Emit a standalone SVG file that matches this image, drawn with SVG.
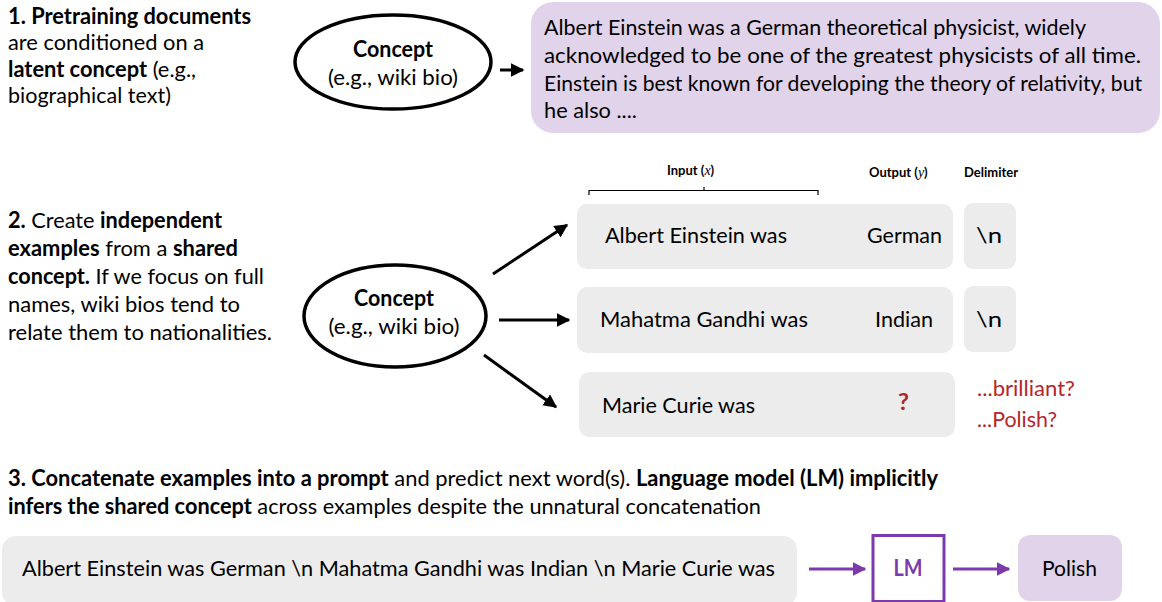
<svg xmlns="http://www.w3.org/2000/svg" width="1162" height="602" viewBox="0 0 1162 602">
<style>
text{font-family:Lato,"Liberation Sans",sans-serif;fill:#000}
.t{font-size:22px}
.b{font-weight:bold}
.hd{font-size:13px;font-weight:bold}
.m{font-family:"Liberation Serif",serif;font-style:italic;font-weight:normal;font-size:14px}
.gray{fill:#ececec}
.lav{fill:#e0d3ea}
.red{fill:#b3262b}
.ell{fill:#fff;stroke:#000;stroke-width:3.5}
.ar{stroke:#000;stroke-width:3;fill:none}
.pa{stroke:#7b3aae;stroke-width:3;fill:none}
</style>
<defs>
<marker id="ah" viewBox="0 0 10 10" refX="9" refY="5" markerWidth="4.5" markerHeight="4.5" orient="auto" markerUnits="strokeWidth"><path d="M0,0 L10,5 L0,10 z" fill="#000"/></marker>
<marker id="ahp" viewBox="0 0 10 10" refX="9" refY="5" markerWidth="4.5" markerHeight="4.5" orient="auto" markerUnits="strokeWidth"><path d="M0,0 L10,5 L0,10 z" fill="#7b3aae"/></marker>
</defs>
<rect width="1162" height="602" fill="#fff"/>

<g id="desc1">
<text class="t b" x="8" y="24" textLength="243" lengthAdjust="spacingAndGlyphs">1. Pretraining documents</text>
<text class="t" x="8" y="50" textLength="196" lengthAdjust="spacingAndGlyphs">are conditioned on a</text>
<text class="t" x="8" y="77" textLength="188" lengthAdjust="spacingAndGlyphs"><tspan class="b">latent concept</tspan> (e.g.,</text>
<text class="t" x="8" y="103" textLength="163" lengthAdjust="spacingAndGlyphs">biographical text)</text>
</g>

<g id="concept1">
<ellipse class="ell" cx="393" cy="62" rx="98" ry="47"/>
<text class="t b" x="393" y="57" text-anchor="middle" textLength="80" lengthAdjust="spacingAndGlyphs">Concept</text>
<text class="t" x="393" y="85" text-anchor="middle" textLength="130" lengthAdjust="spacingAndGlyphs">(e.g., wiki bio)</text>
</g>

<g id="document">
<rect class="lav" x="531" y="2" width="629" height="131" rx="22"/>
<text class="t" x="544" y="35" textLength="542" lengthAdjust="spacingAndGlyphs">Albert Einstein was a German theoretical physicist, widely</text>
<text class="t" x="544" y="63" textLength="597" lengthAdjust="spacingAndGlyphs">acknowledged to be one of the greatest physicists of all time.</text>
<text class="t" x="544" y="91" textLength="598" lengthAdjust="spacingAndGlyphs">Einstein is best known for developing the theory of relativity, but</text>
<text class="t" x="544" y="118" textLength="93" lengthAdjust="spacingAndGlyphs">he also ....</text>
</g>

<g id="desc2">
<text class="t" x="8" y="228" textLength="214" lengthAdjust="spacingAndGlyphs"><tspan class="b">2.</tspan> Create <tspan class="b">independent</tspan></text>
<text class="t" x="8" y="256" textLength="230" lengthAdjust="spacingAndGlyphs"><tspan class="b">examples</tspan> from a <tspan class="b">shared</tspan></text>
<text class="t" x="8" y="284" textLength="256" lengthAdjust="spacingAndGlyphs"><tspan class="b">concept.</tspan> If we focus on full</text>
<text class="t" x="8" y="312" textLength="232" lengthAdjust="spacingAndGlyphs">names, wiki bios tend to</text>
<text class="t" x="8" y="340" textLength="264" lengthAdjust="spacingAndGlyphs">relate them to nationalities.</text>
</g>

<g id="concept2">
<ellipse class="ell" cx="395" cy="316" rx="91" ry="51"/>
<text class="t b" x="394" y="306" text-anchor="middle" textLength="80" lengthAdjust="spacingAndGlyphs">Concept</text>
<text class="t" x="394" y="334" text-anchor="middle" textLength="131" lengthAdjust="spacingAndGlyphs">(e.g., wiki bio)</text>
</g>

<g id="headers">
<text class="hd" x="667" y="175">Input (<tspan class="m">x</tspan>)</text>
<text class="hd" x="869" y="177">Output (<tspan class="m">y</tspan>)</text>
<text class="hd" x="964" y="177">Delimiter</text>
<path d="M589,195 V190.5 H818 V195 M704,190.5 V187" fill="none" stroke="#000" stroke-width="1.2"/>
</g>

<g id="example1">
<rect class="gray" x="577" y="204" width="376" height="65" rx="10"/>
<text class="t" x="605" y="243" textLength="182" lengthAdjust="spacingAndGlyphs">Albert  Einstein was</text>
<text class="t" x="867" y="243" textLength="75" lengthAdjust="spacingAndGlyphs">German</text>
<rect class="gray" x="964" y="203" width="52" height="66" rx="9"/>
<text class="t" x="976" y="243" textLength="26" lengthAdjust="spacingAndGlyphs">\n</text>
</g>

<g id="example2">
<rect class="gray" x="577" y="287" width="376" height="66" rx="10"/>
<text class="t" x="600" y="327" textLength="208" lengthAdjust="spacingAndGlyphs">Mahatma Gandhi was</text>
<text class="t" x="875" y="327" textLength="58" lengthAdjust="spacingAndGlyphs">Indian</text>
<rect class="gray" x="964" y="286" width="52" height="66" rx="9"/>
<text class="t" x="976" y="327" textLength="26" lengthAdjust="spacingAndGlyphs">\n</text>
</g>

<g id="example3">
<rect class="gray" x="579" y="372" width="376" height="65" rx="10"/>
<text class="t" x="602" y="413" textLength="153" lengthAdjust="spacingAndGlyphs">Marie  Curie was</text>
<text class="t b red" x="898" y="410" textLength="11" lengthAdjust="spacingAndGlyphs">?</text>
<text class="t red" x="977" y="396" textLength="98" lengthAdjust="spacingAndGlyphs">...brilliant?</text>
<text class="t red" x="977" y="427" textLength="80" lengthAdjust="spacingAndGlyphs">...Polish?</text>
</g>

<g id="desc3">
<text class="t" x="8" y="486" textLength="930" lengthAdjust="spacingAndGlyphs"><tspan class="b">3. Concatenate examples into a prompt</tspan> and predict next word(s). <tspan class="b">Language model (LM) implicitly</tspan></text>
<text class="t" x="8" y="514" textLength="753" lengthAdjust="spacingAndGlyphs"><tspan class="b">infers the shared concept</tspan> across examples despite the unnatural concatenation</text>
</g>

<g id="prompt">
<rect class="gray" x="2" y="536" width="795" height="70" rx="14"/>
<text class="t" x="22" y="576" textLength="753" lengthAdjust="spacingAndGlyphs">Albert Einstein was German \n Mahatma Gandhi was Indian \n Marie Curie was</text>
</g>

<g id="lm">
<rect x="873" y="535.5" width="71" height="66" fill="#fff" stroke="#7b3aae" stroke-width="3"/>
<text class="t b" x="908" y="576" text-anchor="middle" style="fill:#7b3aae" textLength="29" lengthAdjust="spacingAndGlyphs">LM</text>
</g>

<g id="answer">
<rect class="lav" x="1018" y="535" width="104" height="66" rx="12"/>
<text class="t" x="1042" y="576" textLength="55" lengthAdjust="spacingAndGlyphs">Polish</text>
</g>

<g id="connectors">
<line class="ar" x1="500" y1="70" x2="523" y2="70" marker-end="url(#ah)"/>
<line class="ar" x1="493" y1="274" x2="567" y2="225" marker-end="url(#ah)"/>
<line class="ar" x1="499" y1="320" x2="569" y2="320" marker-end="url(#ah)"/>
<line class="ar" x1="484" y1="355" x2="556" y2="407" marker-end="url(#ah)"/>
<line class="pa" x1="809" y1="569" x2="865" y2="569" marker-end="url(#ahp)"/>
<line class="pa" x1="953" y1="569" x2="1009" y2="569" marker-end="url(#ahp)"/>
</g>
</svg>
